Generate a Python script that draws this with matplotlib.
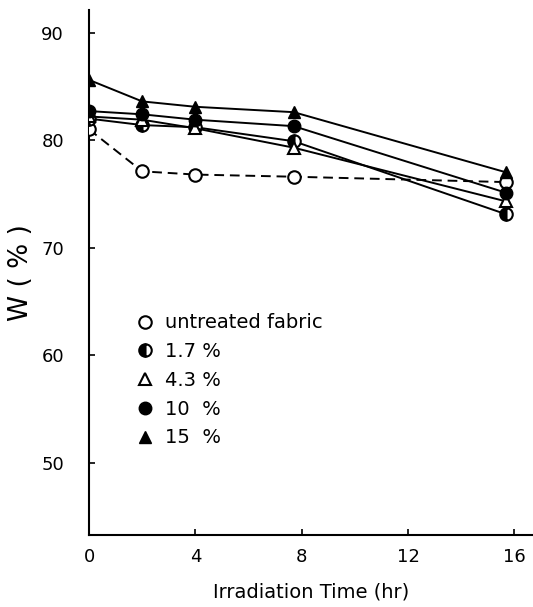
import matplotlib
matplotlib.use("Agg")
import matplotlib.pyplot as plt

# irradiation time (hr)
times = [0, 2, 4, 7.7, 15.7]

untreated = [81.0, 77.1, 76.8, 76.6, 76.1]
pct_1_7 = [82.0, 81.4, 81.2, 79.9, 73.1]
pct_4_3 = [82.2, 81.9, 81.1, 79.3, 74.3]
pct_10 = [82.7, 82.4, 81.9, 81.3, 75.1]
pct_15 = [85.6, 83.6, 83.1, 82.6, 77.0]

x_ticks = [0, 4, 8, 12, 16]
y_ticks = [50, 60, 70, 80, 90]

fig = plt.figure(figsize=(5.33, 6.07), dpi=100)
ax = fig.add_axes([0.167, 0.1186, 0.833, 0.865])

ms = 9
lw = 1.4
ax.plot(times, untreated, "k--", marker="o", mfc="white", mec="black", ms=ms, lw=lw,
        mew=1.5, label="untreated fabric", dashes=(5, 3), zorder=3)
ax.plot(times, pct_1_7, "k-", marker="o", fillstyle="left", mfc="black", mfcalt="white",
        mec="black", ms=ms, lw=lw, mew=1.5, label="1.7 %", zorder=3)
ax.plot(times, pct_4_3, "k-", marker="^", mfc="white", mec="black", ms=ms, lw=lw,
        mew=1.5, label="4.3 %", zorder=3)
ax.plot(times, pct_10, "k-", marker="o", mfc="black", mec="black", ms=ms, lw=lw,
        label="10  %", zorder=3)
ax.plot(times, pct_15, "k-", marker="^", mfc="black", mec="black", ms=ms, lw=lw,
        label="15  %", zorder=3)

ax.set_xlim(0, 16.7)
ax.set_ylim(43.3, 92.1)
ax.set_xticks(x_ticks)
ax.set_yticks(y_ticks)
ax.tick_params(axis="both", direction="in", length=4, width=1.2, labelsize=13)
ax.tick_params(axis="x", pad=9)
ax.tick_params(axis="y", pad=18)
for side in ["top", "right"]:
    ax.spines[side].set_visible(False)
for side in ["left", "bottom"]:
    ax.spines[side].set_linewidth(1.5)

ax.set_xlabel("Irradiation Time (hr)", fontsize=14, labelpad=12)
ax.set_ylabel("W ( % )", fontsize=19, labelpad=5)

ax.legend(loc="upper left", bbox_to_anchor=(0.127, 0.422), frameon=False,
          fontsize=14, handlelength=0, handletextpad=1.0, labelspacing=0.5,
          borderpad=0, borderaxespad=0)

fig.savefig("out.png", dpi=100)
